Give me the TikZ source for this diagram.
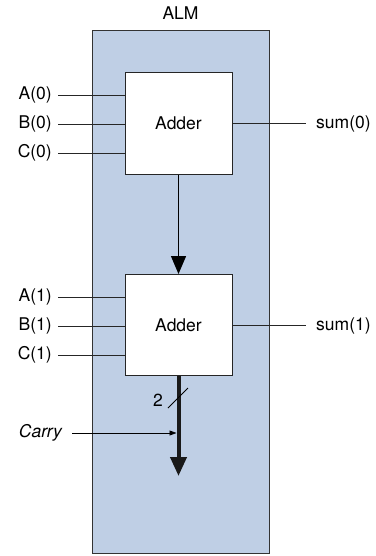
\documentclass[tikz,border=0pt]{standalone}
\usepackage{fontspec}
\setmainfont{TeX Gyre Heros}
\usetikzlibrary{arrows.meta}
\definecolor{almblue}{RGB}{191,207,229}
\begin{document}
\begin{tikzpicture}[x=1pt, y=-1pt, font=\fontsize{17.5}{20}\selectfont,
    adder/.style={draw=black!85, fill=white, line width=1pt, minimum width=107pt, minimum height=101pt},
    wire/.style={draw=black!85, line width=0.9pt}]
      \useasboundingbox (0,0) rectangle (375,556);
      \node[draw=black!80, fill=almblue, line width=1pt, minimum width=177pt, minimum height=522pt, inner sep=0pt] (alm) at (180.5,292) {};
      \node[] (almlbl) at (180.5,13) {ALM};
      \node[adder] (add0) at (178.5,123.5) {Adder};
      \node[adder] (add1) at (178.5,325) {Adder};
      % inputs of the first adder
      \node[anchor=east, inner sep=0pt] (a0) at (52,95) {A(0)}; \node[anchor=east, inner sep=0pt] (b0) at (52,124) {B(0)};
      \node[anchor=east, inner sep=0pt] (c0) at (52,153) {C(0)};
      \draw[wire] (a0.east) ++(6,0) -- (add0.west |- a0); \draw[wire] (b0.east) ++(6,0) -- (add0.west |- b0);
      \draw[wire] (c0.east) ++(6,0) -- (add0.west |- c0);
      \node[anchor=west, inner sep=0pt] (s0) at (316,124) {sum(0)};
      \draw[wire] (add0.east) -- ++(73,0);
      % inputs of the second adder
      \node[anchor=east, inner sep=0pt] (a1) at (52,297) {A(1)}; \node[anchor=east, inner sep=0pt] (b1) at (52,326) {B(1)};
      \node[anchor=east, inner sep=0pt] (c1) at (52,355) {C(1)};
      \draw[wire] (a1.east) ++(6,0) -- (add1.west |- a1); \draw[wire] (b1.east) ++(6,0) -- (add1.west |- b1);
      \draw[wire] (c1.east) ++(6,0) -- (add1.west |- c1);
      \node[anchor=west, inner sep=0pt] (s1) at (316,326) {sum(1)};
      \draw[wire] (add1.east) -- ++(73,0);
      % carry chain
      \draw[line width=1.3pt, -{Triangle[width=15pt,length=18pt]}] (add0.south) -- (add1.north);
      \coordinate (cout) at (178.5,476);
      \draw[line width=4pt, black!90, -{Triangle[width=16pt,length=19pt]}] (add1.south) -- (cout);
      \coordinate (sl1) at (168,408); \coordinate (sl2) at (188,388);
      \draw[line width=0.8pt] (sl1) -- (sl2);
      \node[] (two) at (158,400) {2};
      \node[anchor=east, inner sep=0pt, font=\fontsize{17.5}{20}\selectfont\itshape] (carry) at (62,433) {Carry};
      \coordinate (cin) at (176.5,433);
      \draw[line width=0.8pt, -{Triangle[width=5pt,length=7pt]}] (carry.east) ++(10,0) -- (cin);
    \end{tikzpicture}
\end{document}
